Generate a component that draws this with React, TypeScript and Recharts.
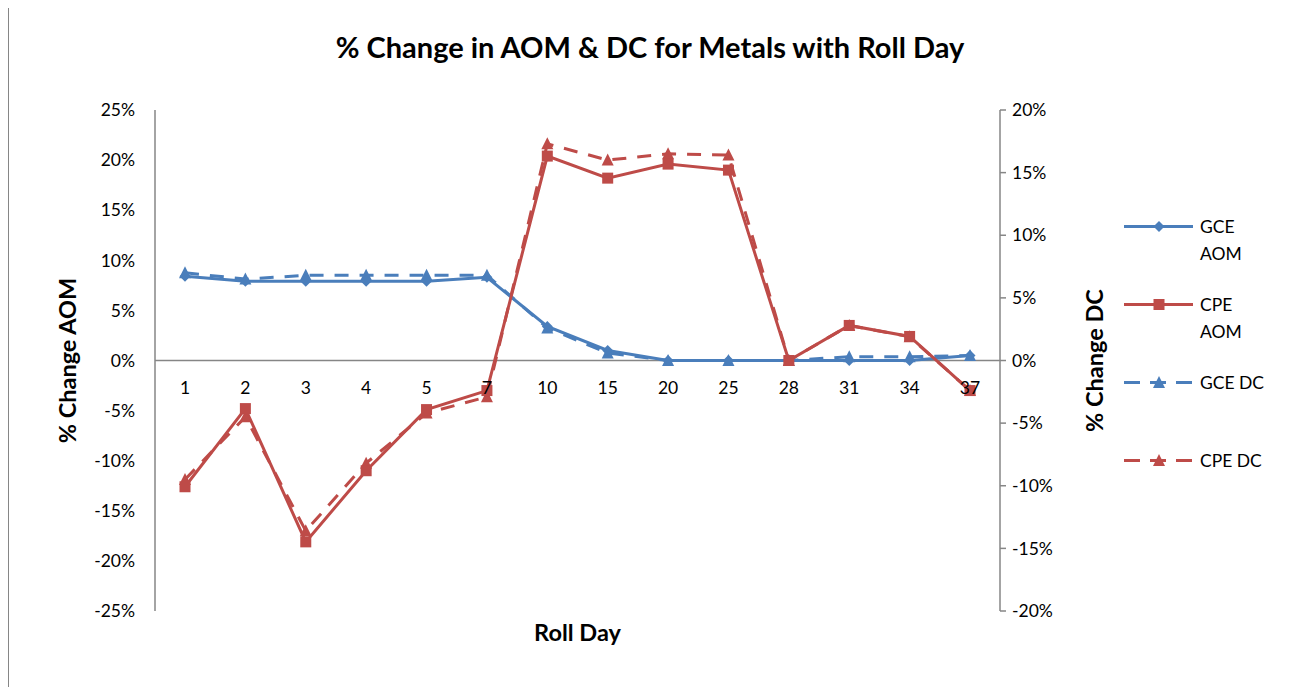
import React from 'react';
import { LineChart, Line, XAxis, YAxis, ReferenceLine, Legend } from 'recharts';

// Roll days on the category axis
const rollDays = ['1', '2', '3', '4', '5', '7', '10', '15', '20', '25', '28', '31', '34', '37'];

// % change in AOM (left axis)
const gceAom = [8.4, 7.9, 7.9, 7.9, 7.9, 8.3, 3.4, 1.0, 0, 0, 0, 0, 0, 0.5];
const cpeAom = [-12.6, -4.8, -18.1, -11.0, -4.9, -3.0, 20.4, 18.2, 19.6, 19.0, 0, 3.5, 2.4, -3.0];

// % change in DC (right axis)
const gceDc = [7.0, 6.5, 6.8, 6.8, 6.8, 6.8, 2.6, 0.6, 0, 0, 0, 0.3, 0.3, 0.4];
const cpeDc = [-9.5, -4.5, -13.6, -8.2, -4.2, -2.9, 17.3, 16.0, 16.5, 16.4, 0, 2.8, 1.9, -2.4];

const aomTicks = [-25, -20, -15, -10, -5, 0, 5, 10, 15, 20, 25];
const dcTicks = [-20, -15, -10, -5, 0, 5, 10, 15, 20];

const data = rollDays.map((day, i) => ({
  day,
  gceAom: gceAom[i],
  cpeAom: cpeAom[i],
  gceDc: gceDc[i],
  cpeDc: cpeDc[i],
}));

const BLUE = '#4A7EBB';
const RED = '#BE4B48';
const AXIS_GRAY = '#868686';
const FONT = 'Lato, "Open Sans", sans-serif';
const TICK_SIZE = 17.5;
const AXIS_TITLE_SIZE = 23.5;

const CHART_W = 1280;
const CHART_H = 679;
const MARGIN = { top: 102, right: 179, bottom: 32, left: 46 };
const PLOT_H = CHART_H - MARGIN.top - MARGIN.bottom - 44;
const DASH = '14 11';

type MarkerKind = 'diamond' | 'square' | 'triangle';

const Marker = ({ kind, cx, cy, fill }: { kind: MarkerKind; cx: number; cy: number; fill: string }) => {
  if (kind === 'diamond') {
    const r = 5.5;
    return <polygon points={`${cx},${cy - r} ${cx + r},${cy} ${cx},${cy + r} ${cx - r},${cy}`} fill={fill} />;
  }
  if (kind === 'square') {
    const s = 11;
    return <rect x={cx - s / 2} y={cy - s / 2} width={s} height={s} fill={fill} />;
  }
  const h = 11;
  const w = 12;
  return (
    <polygon
      points={`${cx},${cy - h / 2 - 1} ${cx + w / 2},${cy + h / 2} ${cx - w / 2},${cy + h / 2}`}
      fill={fill}
    />
  );
};

type SeriesDef = {
  key: 'gceAom' | 'cpeAom' | 'gceDc' | 'cpeDc';
  name: string;
  color: string;
  dashed: boolean;
  marker: MarkerKind;
  axis: 'aom' | 'dc';
};

// legend order
const series: SeriesDef[] = [
  { key: 'gceAom', name: 'GCE AOM', color: BLUE, dashed: false, marker: 'diamond', axis: 'aom' },
  { key: 'cpeAom', name: 'CPE AOM', color: RED, dashed: false, marker: 'square', axis: 'aom' },
  { key: 'gceDc', name: 'GCE DC', color: BLUE, dashed: true, marker: 'triangle', axis: 'dc' },
  { key: 'cpeDc', name: 'CPE DC', color: RED, dashed: true, marker: 'triangle', axis: 'dc' },
];

// DC lines sit beneath the AOM lines
const drawOrder = [series[2], series[3], series[0], series[1]];

const pct = (v: number) => `${v}%`;

// Category labels hang just under the zero line rather than at the plot bottom
const RollDayTick = (props: any) => {
  const { x, y, payload } = props;
  return (
    <text
      x={x}
      y={y - PLOT_H / 2 + 27}
      textAnchor="middle"
      dominantBaseline="central"
      fill="#000"
      fontSize={TICK_SIZE}
      fontFamily={FONT}
    >
      {payload.value}
    </text>
  );
};

const LegendBox = () => (
  <div style={{ fontFamily: FONT, fontSize: TICK_SIZE, color: '#000' }}>
    {series.map((s) => (
      <div key={s.key} style={{ height: 78, display: 'flex', alignItems: 'flex-start' }}>
        <svg width={70} height={27} style={{ flex: 'none' }}>
          <line
            x1={0}
            y1={13.5}
            x2={69}
            y2={13.5}
            stroke={s.color}
            strokeWidth={3}
            strokeDasharray={s.dashed ? '16 10' : undefined}
          />
          <Marker kind={s.marker} cx={35} cy={13.5} fill={s.color} />
        </svg>
        <div style={{ marginLeft: 6, width: 68, lineHeight: '27px' }}>{s.name}</div>
      </div>
    ))}
  </div>
);

export default function App() {
  return (
    <div
      style={{
        position: 'relative',
        width: 1280,
        height: CHART_H,
        borderLeft: `1px solid ${AXIS_GRAY}`,
        borderTop: `1px solid ${AXIS_GRAY}`,
        marginTop: -1,
        background: '#fff',
        fontFamily: FONT,
      }}
    >
      <div
        style={{
          position: 'absolute',
          top: 22,
          left: 1,
          width: CHART_W,
          textAlign: 'center',
          fontSize: 29,
          fontWeight: 700,
          lineHeight: '34px',
          color: '#000',
        }}
      >
        % Change in AOM &amp; DC for Metals with Roll Day
      </div>
      <LineChart width={CHART_W} height={CHART_H} data={data} margin={MARGIN}>
        <XAxis
          dataKey="day"
          xAxisId="x"
          height={44}
          axisLine={false}
          tickLine={false}
          tickSize={0}
          tickMargin={0}
          interval={0}
          padding={{ left: 30, right: 30 }}
          tick={<RollDayTick />}
          label={{
            value: 'Roll Day',
            position: 'center',
            fill: '#000',
            fontSize: AXIS_TITLE_SIZE,
            fontWeight: 700,
            fontFamily: FONT,
          }}
        />
        <YAxis
          yAxisId="aom"
          orientation="left"
          width={100}
          domain={[-25, 25]}
          ticks={aomTicks}
          tickFormatter={pct}
          allowDataOverflow
          axisLine={{ stroke: AXIS_GRAY, strokeWidth: 1.5 }}
          tickLine={false}
          tickSize={0}
          tickMargin={20}
          tick={{ fill: '#000', fontSize: TICK_SIZE, fontFamily: FONT }}
          label={{
            value: '% Change AOM',
            angle: -90,
            position: 'insideLeft',
            offset: 13,
            fill: '#000',
            fontSize: AXIS_TITLE_SIZE,
            fontWeight: 700,
            fontFamily: FONT,
            style: { textAnchor: 'middle' },
          }}
        />
        <YAxis
          yAxisId="dc"
          orientation="right"
          width={110}
          domain={[-20, 20]}
          ticks={dcTicks}
          tickFormatter={pct}
          allowDataOverflow
          axisLine={{ stroke: AXIS_GRAY, strokeWidth: 1.5 }}
          tickLine={{ stroke: AXIS_GRAY, strokeWidth: 1.5 }}
          tickSize={6}
          tickMargin={6}
          tick={{ fill: '#000', fontSize: TICK_SIZE, fontFamily: FONT }}
          label={{
            value: '% Change DC',
            angle: -90,
            position: 'insideRight',
            offset: 15,
            fill: '#000',
            fontSize: AXIS_TITLE_SIZE,
            fontWeight: 700,
            fontFamily: FONT,
            style: { textAnchor: 'middle' },
          }}
        />
        <ReferenceLine y={0} yAxisId="aom" xAxisId="x" stroke={AXIS_GRAY} strokeWidth={1.5} />
        {drawOrder.map((s) => (
          <Line
            key={s.key}
            type="linear"
            dataKey={s.key}
            name={s.name}
            xAxisId="x"
            yAxisId={s.axis}
            stroke={s.color}
            strokeWidth={3}
            strokeDasharray={s.dashed ? DASH : undefined}
            isAnimationActive={false}
            activeDot={false}
            dot={(p: any) =>
              p.cx == null || p.cy == null ? (
                <g key={`${s.key}-${p.index}`} />
              ) : (
                <Marker key={`${s.key}-${p.index}`} kind={s.marker} cx={p.cx} cy={p.cy} fill={s.color} />
              )
            }
          />
        ))}
        <Legend
          layout="vertical"
          align="center"
          verticalAlign="middle"
          wrapperStyle={{ left: 1115, top: 205, width: 160 }}
          content={() => <LegendBox />}
        />
      </LineChart>
    </div>
  );
}
